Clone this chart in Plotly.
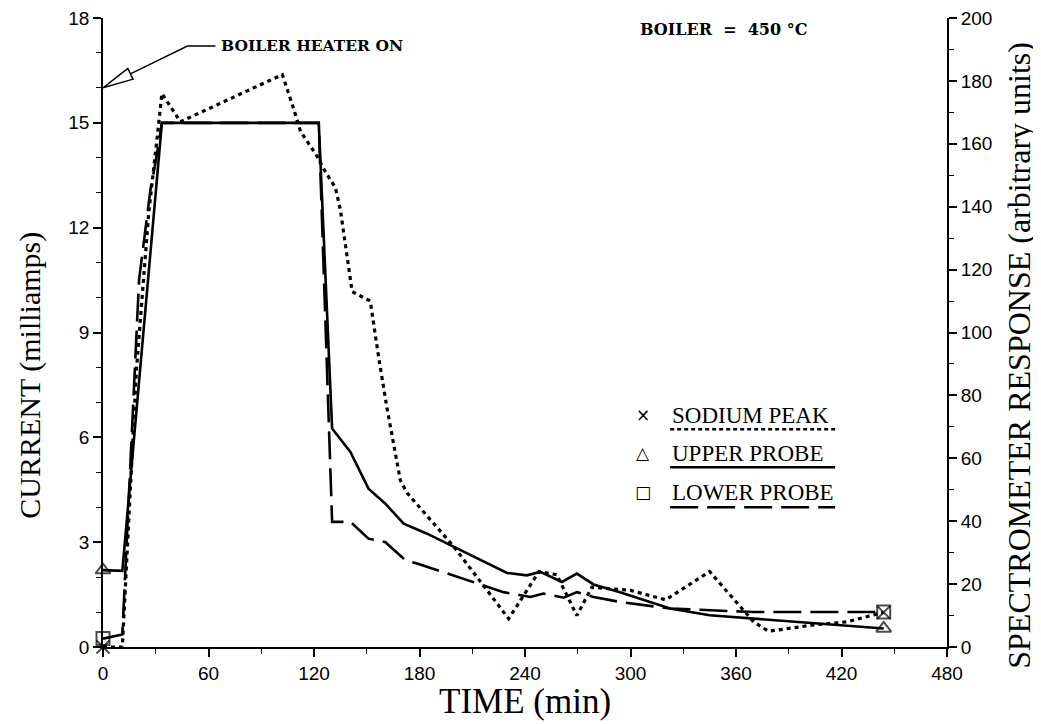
import plotly.graph_objects as go

# ---------------- data ----------------
# Sodium peak: spectrometer response (arbitrary units, right axis)
sodium_t = [0, 11, 19, 26, 31, 33.5, 44, 102, 108.5, 112.3, 121.8, 125.5, 132.2, 135,
            141.7, 152, 156.8, 161.5, 169.1, 172.9, 199.4, 230.7, 248, 258, 269.5, 278,
            300, 320, 345, 370, 378.5, 404, 423, 444]
sodium_v = [0, 0, 88, 138, 163, 176, 167, 182, 171, 164, 156, 152, 146, 139,
            113, 110, 92, 76, 53, 49, 32, 9, 24, 23, 10, 19,
            18, 15, 24, 8, 5, 7, 8, 11]

# Upper probe: current (milliamps, left axis)
upper_t = [0, 11, 33.5, 122.7, 130.3, 140.7, 151, 160.6, 171, 184, 229.8, 241, 248.7,
           261, 269.5, 279, 294, 322.5, 345, 372, 397, 444]
upper_i = [2.2, 2.18, 15, 15, 6.25, 5.58, 4.53, 4.1, 3.53, 3.25, 2.12, 2.05, 2.15,
           1.86, 2.10, 1.79, 1.57, 1.1, 0.91, 0.81, 0.72, 0.53]

# Lower probe: current (milliamps, left axis)
lower_t = [0, 11, 20.5, 27, 30, 33.5, 122.7, 130.3, 140.7, 151, 160.6, 172, 178.6,
           227.8, 243, 250.5, 262, 269.5, 279, 294, 322.5, 370, 444]
lower_i = [0.24, 0.36, 10.5, 13.1, 13.9, 15, 15, 3.58, 3.58, 3.1, 3.0, 2.48, 2.39,
           1.57, 1.43, 1.53, 1.41, 1.57, 1.43, 1.29, 1.1, 1.0, 1.0]

x_ticks = [0, 60, 120, 180, 240, 300, 360, 420, 480]
y_ticks = [0, 3, 6, 9, 12, 15, 18]
y2_ticks = [0, 20, 40, 60, 80, 100, 120, 140, 160, 180, 200]

legend_labels = ["SODIUM PEAK", "UPPER PROBE", "LOWER PROBE"]
legend_symbols = ["\u00d7", "\u25b3", "\u25a1"]

# ---------------- figure ----------------
def end_sizes(n, s):
    return [s] + [0] * (n - 2) + [s]

fig = go.Figure()
fig.add_trace(go.Scatter(
    x=sodium_t, y=sodium_v, yaxis="y2", name="SODIUM PEAK",
    mode="lines+markers", cliponaxis=False,
    line=dict(color="black", width=3.2, dash="4px,4px"),
    marker=dict(symbol="x-thin-open", size=end_sizes(len(sodium_t), 13),
                line=dict(color="black", width=2), color="black")))
fig.add_trace(go.Scatter(
    x=upper_t, y=upper_i, name="UPPER PROBE",
    mode="lines+markers", cliponaxis=False,
    line=dict(color="black", width=2.6),
    marker=dict(symbol="triangle-up-open", size=end_sizes(len(upper_t), 13),
                line=dict(color="black", width=2), color="black")))
fig.add_trace(go.Scatter(
    x=lower_t, y=lower_i, name="LOWER PROBE",
    mode="lines+markers", cliponaxis=False,
    line=dict(color="black", width=2.6, dash="28px,9px"),
    marker=dict(symbol="square-open", size=end_sizes(len(lower_t), 13),
                line=dict(color="black", width=2), color="black")))

tickfont = dict(family="Liberation Sans", size=19, color="black")
serif = "Liberation Serif"
bold_serif = "DejaVu Serif"

common = dict(ticks="outside", ticklen=8, tickwidth=1.5, tickcolor="black",
              showline=True, linecolor="black", linewidth=1.8, showgrid=False,
              zeroline=False, tickfont=tickfont, ticklabeloverflow="allow",
              automargin=False)

fig.update_layout(
    width=1033, height=716, autosize=False,
    margin=dict(l=94.5, r=94, t=10, b=77, autoexpand=False),
    paper_bgcolor="white", plot_bgcolor="white",
    showlegend=False,
    xaxis=dict(range=[0, 480], tickvals=x_ticks, **common,
               minor=dict(dtick=30, ticks="outside", ticklen=5, tickcolor="black",
                          tickwidth=1.2, showgrid=False)),
    yaxis=dict(range=[0, 18], tickvals=y_ticks, **common,
               minor=dict(dtick=1, ticks="outside", ticklen=5, tickcolor="black",
                          tickwidth=1.2, showgrid=False)),
    yaxis2=dict(range=[0, 200], tickvals=y2_ticks, overlaying="y", side="right",
                **common,
                minor=dict(dtick=10, ticks="outside", ticklen=5, tickcolor="black",
                           tickwidth=1.2, showgrid=False)),
)

# axis titles placed as annotations
fig.add_annotation(text="TIME (min)", xref="paper", yref="paper",
                   x=0.5, y=-0.086, xanchor="center", yanchor="middle", showarrow=False,
                   font=dict(family=serif, size=35, color="black"))
fig.add_annotation(text="CURRENT (milliamps)", xref="paper", yref="paper",
                   x=-0.086, y=0.432, xanchor="center", yanchor="middle",
                   textangle=-90, showarrow=False,
                   font=dict(family=serif, size=30, color="black"))
fig.add_annotation(text="SPECTROMETER RESPONSE (arbitrary units)", xref="paper", yref="paper",
                   x=1.086, y=0.464, xanchor="center", yanchor="middle",
                   textangle=-90, showarrow=False,
                   font=dict(family=serif, size=32, color="black"))

# boiler text
fig.add_annotation(text="BOILER  =  450 \u00b0C", xref="paper", yref="paper",
                   x=0.634, y=0.982, xanchor="left", yanchor="middle", showarrow=False,
                   font=dict(family=bold_serif, size=16, color="black", weight="bold"))

# heater-on callout
fig.add_annotation(text="BOILER HEATER ON", xref="x", yref="y",
                   x=66, y=17.2, xanchor="left", yanchor="middle", showarrow=False,
                   font=dict(family=bold_serif, size=15.5, color="black", weight="bold"))
fig.add_shape(type="path", xref="x", yref="y",
              path="M 64,17.2 L 48,17.2 L 15.6,16.4",
              line=dict(color="black", width=1.5))
fig.add_shape(type="path", xref="x", yref="y",
              path="M 0,16 L 17.1,16.25 L 14.1,16.56 Z",
              line=dict(color="black", width=1.5), fillcolor="white")

# custom legend
leg_y = [0.3685, 0.308, 0.246]
line_y = [0.3463, 0.2858, 0.2222]
dashes = ["4px,3px", "solid", "28px,9px"]
for lab, sym, yy, ly, dsh in zip(legend_labels, legend_symbols, leg_y, line_y, dashes):
    fig.add_annotation(text=sym, xref="paper", yref="paper", x=0.640, y=yy,
                       xanchor="center", yanchor="middle",
                       showarrow=False, font=dict(family="DejaVu Sans", size=17, color="black"))
    fig.add_annotation(text=lab, xref="paper", yref="paper", x=0.672, y=yy,
                       xanchor="left", yanchor="middle", showarrow=False,
                       font=dict(family=serif, size=23, color="black"))
    fig.add_shape(type="line", xref="paper", yref="paper",
                  x0=0.672, x1=0.8674, y0=ly, y1=ly,
                  line=dict(color="black", width=2.4, dash=dsh))

fig.write_html("out.html")
